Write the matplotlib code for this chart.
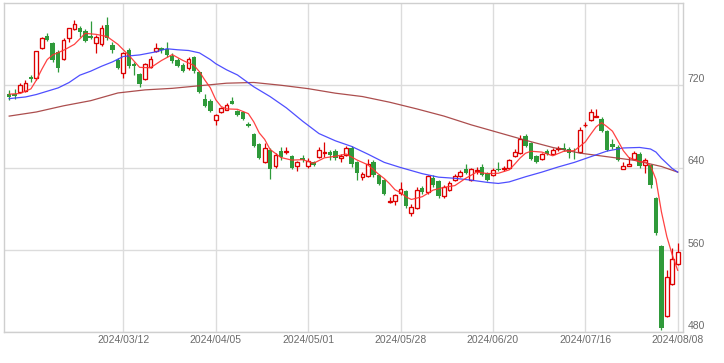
import numpy as np
import matplotlib.pyplot as plt
from matplotlib.transforms import ScaledTranslation

plt.rcParams['font.family'] = ['Liberation Sans', 'DejaVu Sans']

# OHLC (one candle per trading day)
opens = [711.9, 711.7, 713.5, 714.1, 728.1, 727.5, 755.8, 767.8, 760.7, 752.5,
         746.0, 766.2, 774.6, 775.3, 772.7, 767.8, 760.7, 759.7, 778.5, 759.0,
         745.0, 732.0, 754.1, 740.2, 730.7, 726.5, 737.8, 753.4, 755.8, 754.9,
         748.3, 744.4, 739.5, 736.3, 747.0, 733.0, 707.0, 704.4, 686.6, 694.0,
         696.3, 704.7, 694.7, 694.0, 682.0, 672.2, 662.5, 645.2, 656.6, 641.3,
         655.7, 655.4, 650.8, 641.3, 649.5, 641.3, 645.2, 650.1, 653.7, 655.0,
         655.7, 649.5, 651.8, 659.3, 645.2, 630.6, 631.6, 645.2, 632.3, 627.4,
         606.9, 607.9, 615.0, 616.9, 595.5, 600.8, 620.3, 616.0, 630.0, 626.4,
         612.1, 618.3, 628.1, 631.3, 638.8, 627.4, 636.6, 640.3, 634.5, 632.3,
         638.8, 638.4, 639.8, 650.8, 654.4, 670.6, 663.7, 650.8, 648.5, 655.9,
         653.4, 658.0, 659.3, 658.3, 656.3, 655.0, 681.0, 686.6, 689.5, 687.5,
         675.4, 663.1, 659.8, 638.8, 641.7, 648.5, 653.4, 642.0, 642.0, 610.1,
         564.0, 495.4, 526.7, 546.2]
highs = [715.1, 716.8, 722.6, 724.9, 729.8, 753.5, 766.8, 770.4, 762.0, 754.1,
         765.5, 776.0, 783.4, 777.6, 774.6, 782.5, 768.8, 778.5, 786.6, 762.3,
         746.6, 752.2, 755.8, 742.7, 732.0, 741.2, 748.3, 760.7, 757.1, 762.3,
         751.2, 746.3, 741.5, 747.6, 748.3, 733.7, 711.2, 706.4, 692.2, 699.0,
         702.5, 708.6, 695.6, 695.1, 684.2, 673.2, 663.5, 663.7, 658.6, 654.0,
         659.8, 659.8, 651.8, 646.4, 651.8, 649.5, 646.4, 659.8, 664.7, 656.6,
         657.6, 652.7, 660.5, 660.5, 646.4, 635.2, 648.5, 646.9, 633.2, 628.8,
         611.1, 614.7, 625.7, 618.1, 604.7, 621.5, 622.0, 632.7, 632.3, 627.9,
         623.0, 626.4, 633.9, 637.6, 643.0, 640.0, 640.3, 643.0, 635.7, 639.6,
         645.2, 641.0, 647.9, 658.3, 671.2, 672.9, 664.9, 651.8, 654.2, 658.3,
         658.6, 660.5, 663.7, 659.8, 658.6, 679.3, 684.2, 697.3, 697.3, 688.8,
         676.1, 668.0, 661.5, 645.2, 650.1, 655.9, 654.7, 648.8, 643.0, 611.1,
         564.5, 540.3, 562.0, 566.4]
lows = [705.4, 707.0, 712.2, 713.0, 723.2, 725.0, 754.9, 762.9, 742.7, 733.0,
        744.4, 762.2, 773.6, 767.1, 762.0, 764.9, 751.5, 758.0, 763.9, 751.2,
        735.6, 727.5, 736.3, 729.8, 718.3, 725.2, 736.3, 752.5, 751.2, 747.4,
        741.7, 737.6, 732.7, 735.1, 732.4, 712.7, 698.5, 693.7, 681.7, 693.2,
        695.6, 701.5, 689.8, 685.9, 679.0, 659.5, 648.3, 644.0, 629.0, 640.0,
        646.9, 653.4, 638.1, 636.4, 645.2, 640.0, 641.5, 648.8, 650.1, 646.9,
        646.9, 645.2, 650.8, 640.3, 628.1, 628.0, 630.3, 630.8, 622.5, 613.4,
        605.3, 604.0, 613.7, 601.0, 592.6, 599.6, 614.7, 614.7, 621.0, 610.8,
        610.8, 617.1, 626.4, 630.3, 633.2, 626.4, 633.9, 631.3, 626.4, 631.3,
        636.2, 636.4, 638.6, 649.8, 653.2, 659.5, 647.4, 644.0, 647.4, 651.8,
        652.2, 655.7, 655.7, 649.5, 648.5, 654.2, 679.3, 685.4, 688.8, 674.2,
        656.1, 658.3, 646.4, 638.1, 641.3, 647.4, 640.0, 634.5, 620.3, 574.2,
        481.8, 494.8, 526.0, 545.5]
closes = [708.6, 709.8, 720.0, 722.6, 725.9, 753.2, 765.5, 763.9, 744.4, 736.3,
          763.9, 775.3, 779.2, 772.0, 763.2, 766.1, 767.1, 775.3, 765.5, 754.1,
          737.2, 750.9, 738.5, 739.2, 721.0, 740.2, 746.0, 755.8, 754.1, 749.3,
          743.7, 738.9, 733.9, 746.0, 733.9, 713.5, 699.5, 695.0, 690.8, 697.9,
          701.2, 702.2, 690.8, 687.5, 680.5, 660.8, 649.1, 659.3, 638.1, 651.8,
          650.1, 656.0, 639.8, 645.2, 646.9, 645.9, 642.7, 656.6, 654.7, 651.8,
          648.8, 651.1, 659.3, 643.0, 634.5, 633.2, 643.0, 632.3, 623.5, 614.4,
          607.7, 613.4, 619.3, 602.3, 602.0, 618.3, 616.0, 631.3, 622.5, 612.1,
          621.5, 624.7, 631.3, 635.5, 634.5, 638.8, 637.6, 632.3, 627.4, 637.8,
          637.1, 639.1, 646.9, 655.0, 668.0, 660.5, 648.5, 645.2, 652.7, 653.4,
          657.3, 658.6, 656.6, 654.0, 655.7, 676.8, 681.6, 694.0, 690.1, 675.4,
          657.3, 659.8, 647.6, 641.3, 643.0, 654.4, 641.3, 647.6, 622.5, 576.0,
          484.0, 533.8, 551.0, 557.5]

tick_idx = [21, 38, 55, 72, 89, 106, 123]
tick_labels = ['2024/03/12', '2024/04/05', '2024/05/01', '2024/05/28',
               '2024/06/20', '2024/07/16', '2024/08/08']
price_ticks = [480, 560, 640, 720]

# moving averages (5 / 25 / 75 day)
ma5_idx = [0, 2, 4, 5, 6, 7, 8, 10, 12, 14, 16, 18, 20, 22, 24, 26, 28, 30, 32,
           34, 35, 36, 37, 38, 39, 40, 42, 44, 45, 46, 47, 48, 50, 52, 54, 56,
           58, 60, 62, 64, 66, 68, 69, 70, 71, 72, 73, 74, 76, 78, 80, 82, 84,
           86, 88, 90, 92, 93, 94, 95, 96, 98, 100, 102, 104, 106, 107, 108,
           109, 110, 111, 112, 113, 114, 116, 117, 118, 119, 120, 121, 122, 123]
ma5 = [711.3, 712.0, 716.5, 725.0, 735.5, 745.0, 749.5, 754.0, 759.8, 770.5,
       769.5, 767.4, 759.8, 749.2, 737.4, 737.0, 744.0, 749.8, 744.0, 739.3,
       733.2, 725.0, 717.6, 706.0, 699.3, 697.0, 696.6, 692.4, 684.4, 673.7,
       667.4, 657.6, 649.7, 647.2, 647.6, 644.1, 649.4, 650.9, 653.1, 647.3,
       642.6, 633.3, 629.3, 624.2, 618.3, 615.7, 611.4, 608.9, 611.6, 618.0,
       620.7, 622.4, 629.5, 635.5, 634.1, 634.4, 637.7, 643.2, 649.2, 653.9,
       655.8, 655.0, 651.4, 655.7, 656.4, 664.9, 672.4, 679.6, 683.6, 679.7,
       675.3, 666.0, 656.3, 649.8, 645.5, 645.5, 641.8, 628.4, 597.0, 572.8,
       555.0, 540.0]
ma25_idx = [0, 3, 5, 7, 9, 11, 13, 15, 17, 19, 21, 24, 27, 29, 31, 33, 35, 37,
            38, 40, 42, 45, 48, 51, 54, 57, 60, 63, 66, 69, 72, 76, 79, 82, 85,
            88, 90, 92, 95, 98, 101, 104, 107, 110, 113, 116, 118, 119, 120,
            121, 122, 123]
ma25 = [707.0, 708.6, 711.0, 714.2, 717.4, 722.6, 729.8, 733.7, 738.5, 742.7,
        748.0, 749.5, 752.5, 755.5, 754.5, 753.8, 751.5, 745.0, 741.0, 735.0,
        730.0, 718.5, 709.0, 698.0, 685.0, 673.0, 666.0, 660.5, 653.0, 645.0,
        640.0, 634.0, 630.6, 629.5, 627.7, 625.5, 624.5, 626.0, 631.0, 635.5,
        640.5, 645.0, 650.5, 656.0, 659.0, 659.5, 658.0, 655.0, 649.0, 644.0,
        639.0, 635.5]
ma75_idx = [0, 5, 10, 15, 20, 25, 30, 35, 40, 45, 50, 55, 60, 65, 70, 75, 80,
            85, 90, 95, 100, 105, 110, 115, 120, 123]
ma75 = [690.0, 694.0, 700.0, 705.0, 712.5, 715.5, 717.0, 719.5, 722.0, 722.7,
        720.0, 716.7, 712.3, 709.0, 703.5, 697.0, 690.0, 681.5, 674.0, 666.5,
        659.5, 654.0, 650.5, 647.0, 641.0, 635.5]

RED = '#dd0000'
GREEN = '#2f9a3a'

o = np.array(opens)
c = np.array(closes)
x = np.arange(len(c))
up = c >= o

fig = plt.figure(figsize=(7.24, 3.63), dpi=100)
ax = fig.add_axes([4.3 / 724, 31 / 363, 679 / 724, 329 / 363])

ax.vlines(x, lows, highs, colors=np.where(up, RED, GREEN), lw=0.9, zorder=2)
ax.bar(x[up], np.maximum(c[up] - o[up], 0.8), bottom=o[up], width=0.7,
       facecolor='white', edgecolor=RED, linewidth=0.95, zorder=3)
ax.bar(x[~up], np.maximum(o[~up] - c[~up], 0.8), bottom=c[~up], width=0.82,
       color=GREEN, linewidth=0, zorder=3)

ax.plot(ma75_idx, ma75, color='#a33b3b', lw=0.9, alpha=0.9, zorder=4)
ax.plot(ma25_idx, ma25, color='#3c3cff', lw=0.9, alpha=0.9, zorder=4)
ax.plot(ma5_idx, ma5, color='#ff2e2e', lw=0.9, alpha=0.9, zorder=5)

ax.set_xlim(-0.9, 124.03)
ax.set_ylim(480, 800)
ax.set_xticks(tick_idx)
ax.set_xticklabels(tick_labels)
ax.set_yticks(price_ticks)
ax.yaxis.tick_right()
ax.grid(True, color='#dcdcdc', lw=1, zorder=0)
ax.set_axisbelow(True)
ax.tick_params(length=0, labelsize=7.5, labelcolor='#6b6b6b')
ax.tick_params(axis='x', pad=2.5)
ax.tick_params(axis='y', pad=3)
for s in ax.spines.values():
    s.set_color('#cfcfcf')
    s.set_linewidth(1)

shift = ScaledTranslation(0, 0.07, fig.dpi_scale_trans)
for lab in ax.get_yticklabels():
    lab.set_transform(lab.get_transform() + shift)

fig.savefig('out.png', dpi=100)
